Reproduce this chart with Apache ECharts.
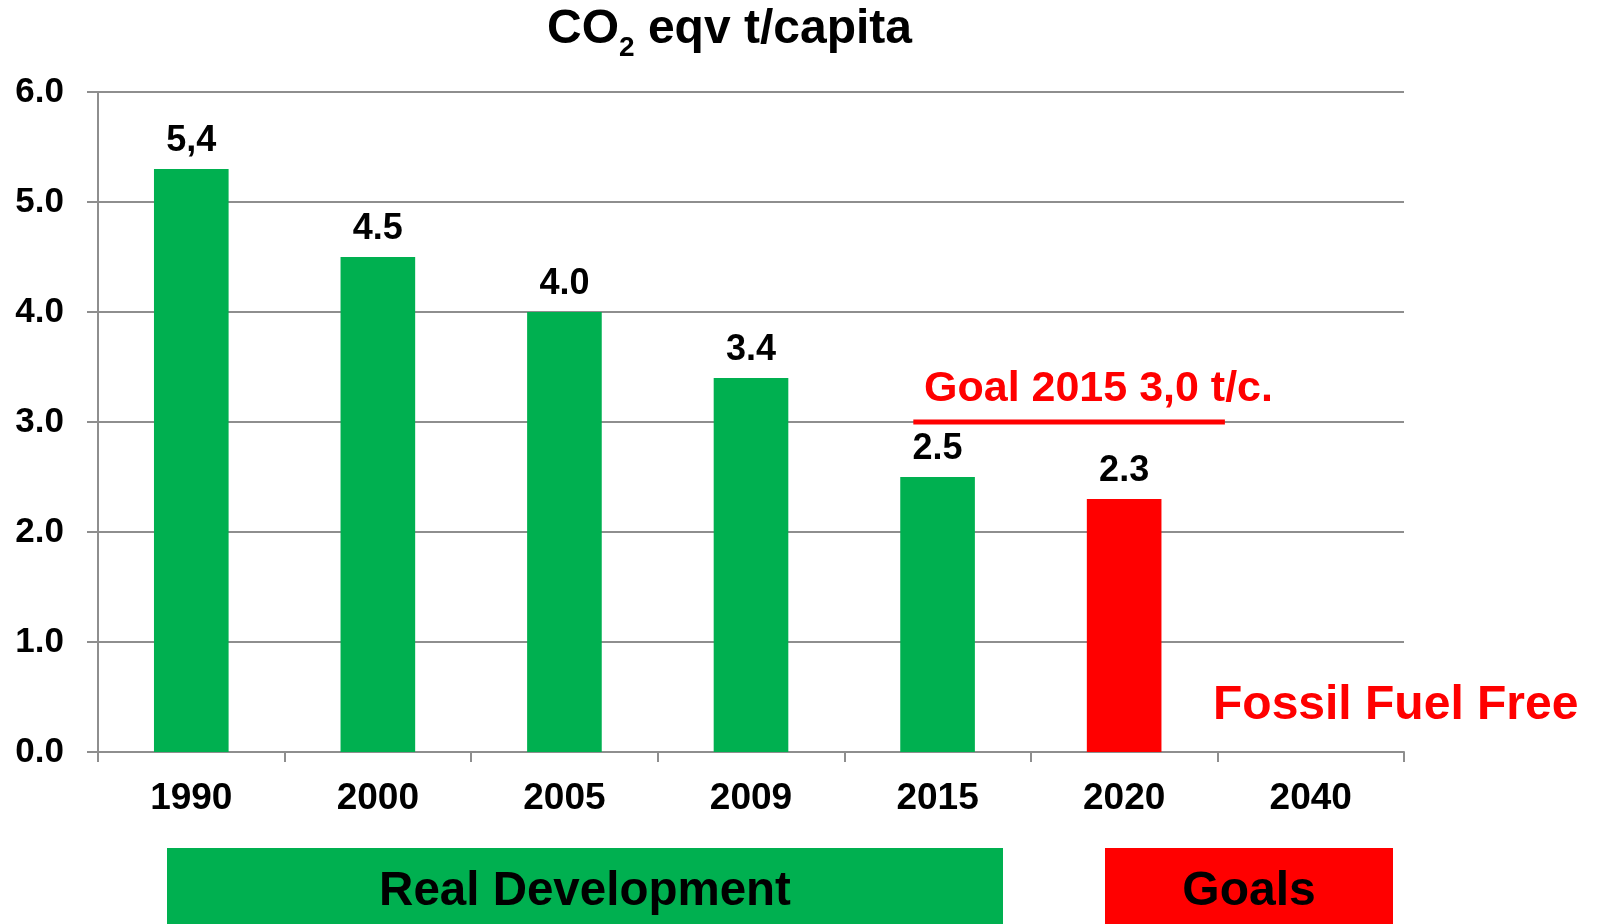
<!DOCTYPE html>
<html>
<head>
<meta charset="utf-8">
<script src="https://cdn.jsdelivr.net/npm/echarts@6/dist/echarts.min.js"></script>
<style>
html,body{margin:0;padding:0;background:#fff;}
#chart{width:1599px;height:924px;}
</style>
</head>
<body>
<div id="chart"></div>
<script>
// ---- data ----
const categories = ['1990', '2000', '2005', '2009', '2015', '2020', '2040'];
const values = [5.3, 4.5, 4.0, 3.4, 2.5, 2.3, null];
const valueLabels = ['5,4', '4.5', '4.0', '3.4', '2.5', '2.3', ''];
const goalCategories = ['2020', '2040'];
const goalLine = [[4.37, 3.0], [6.04, 3.0]];
const goalText = 'Goal 2015 3,0 t/c.';
const yMin = 0, yMax = 6, yStep = 1;

const FONT = "'Liberation Sans', Arial, Helvetica, sans-serif";
const GREEN = '#00B050', RED = '#FF0000', GRAY = '#8e8e8e';

const chart = echarts.init(document.getElementById('chart'));
chart.setOption({
  animation: false,
  backgroundColor: '#ffffff',
  textStyle: { fontFamily: FONT },
  title: {
    text: 'CO{s|2} eqv t/capita',
    left: 547, top: -2, padding: 0,
    textStyle: {
      fontFamily: FONT, fontSize: 48, fontWeight: 'bold', color: '#000',
      lineHeight: 64, verticalAlign: 'middle',
      rich: {
        s: { fontFamily: FONT, fontSize: 28, fontWeight: 'bold', color: '#000', lineHeight: 64, verticalAlign: 'bottom' }
      }
    }
  },
  grid: { left: 98, right: 195, top: 92, bottom: 172, containLabel: false },
  xAxis: [{
    type: 'category',
    data: categories,
    boundaryGap: true,
    axisLine: { show: true, lineStyle: { color: GRAY, width: 2 } },
    axisTick: { show: true, length: 10, alignWithLabel: false, lineStyle: { color: GRAY, width: 2 } },
    axisLabel: { margin: 28, fontSize: 37, fontWeight: 'bold', color: '#000', fontFamily: FONT },
    splitLine: { show: false }
  }, {
    type: 'value', min: 0, max: categories.length, show: false
  }],
  yAxis: {
    type: 'value', min: yMin, max: yMax, interval: yStep,
    axisLine: { show: true, lineStyle: { color: GRAY, width: 2 } },
    axisTick: { show: true, length: 11, lineStyle: { color: GRAY, width: 2 } },
    axisLabel: { margin: 34, fontSize: 35, fontWeight: 'bold', color: '#000', fontFamily: FONT,
      formatter: v => v.toFixed(1) },
    splitLine: { show: true, lineStyle: { color: GRAY, width: 2 } }
  },
  series: [{
    type: 'bar',
    xAxisIndex: 0,
    data: values,
    barWidth: '40%',
    itemStyle: {
      color: p => goalCategories.indexOf(categories[p.dataIndex]) >= 0 ? RED : GREEN
    },
    label: {
      show: true, position: 'top', distance: 10,
      fontSize: 36, fontWeight: 'bold', color: '#000', fontFamily: FONT,
      formatter: p => valueLabels[p.dataIndex]
    },
    z: 3
  }, {
    type: 'line',
    xAxisIndex: 1,
    data: goalLine,
    symbol: 'none',
    lineStyle: { color: RED, width: 5 },
    z: 4
  }],
  graphic: [
    { type: 'text', left: 924, top: 368, z: 10,
      style: { text: goalText, fill: RED, font: "bold 43px " + FONT } },
    { type: 'text', left: 1213, top: 682, z: 10,
      style: { text: 'Fossil Fuel Free', fill: RED, font: "bold 48px " + FONT } },
    { type: 'rect', shape: { x: 167, y: 848, width: 836, height: 76 }, style: { fill: GREEN }, z: 5 },
    { type: 'rect', shape: { x: 1105, y: 848, width: 288, height: 76 }, style: { fill: RED }, z: 5 },
    { type: 'text', z: 10, style: { x: 585, y: 892, text: 'Real Development', fill: '#000',
      font: "bold 47.5px " + FONT, textAlign: 'center', textVerticalAlign: 'middle' } },
    { type: 'text', z: 10, style: { x: 1249, y: 892, text: 'Goals', fill: '#000',
      font: "bold 48px " + FONT, textAlign: 'center', textVerticalAlign: 'middle' } }
  ]
});
</script>
</body>
</html>
